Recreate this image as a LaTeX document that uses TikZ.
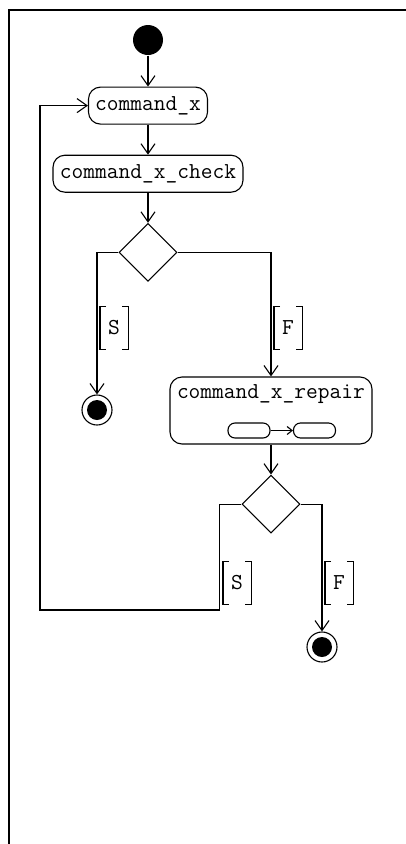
\documentclass[tikz,border=0pt]{standalone}
\usetikzlibrary{arrows.meta,positioning,shapes.geometric}

\begin{document}
\begin{tikzpicture}[x=1pt,y=1pt,
          line width=1.1pt,
          >={Straight Barb[length=10pt,width=14pt]},
          every node/.style={font=\fontsize{22.8}{26}\selectfont\ttfamily},
          act/.style={draw,rounded corners=12pt,minimum height=37pt,inner sep=0pt},
          mini/.style={draw,rounded corners=7pt,minimum width=42pt,minimum height=15pt,inner sep=0pt},
          decision/.style={diamond,draw,minimum width=58pt,minimum height=58pt,inner sep=0pt},
          startnode/.style={circle,fill,minimum size=30pt,inner sep=0pt},
          final/.style={circle,draw,minimum size=30pt,inner sep=0pt,
              path picture={\fill (path picture bounding box.center) circle (10pt);}},
          guard/.style={minimum width=27pt,minimum height=42pt,inner sep=0pt,anchor=west}]
        \useasboundingbox (0,0) rectangle (406,-844);
        \draw[line width=1.5pt] (406,-10) -| (9,-844);
        % main column
        \node[startnode] (start) at (148,-40) {};
        \node[act,minimum width=119pt,below=31pt of start] (cmdx) {command\_x};
        \node[act,minimum width=190pt,below=30pt of cmdx] (check) {command\_x\_check};
        \node[decision,below=30pt of check] (d1) {};
        \node[final] (end1) at (97,-410) {};
        % repair activity
        \node[act,minimum width=202pt,minimum height=67pt] (repair) at (271,-410.5) {};
        \node[anchor=west,inner sep=7pt] (repairname) at ([yshift=-18pt]repair.north west) {command\_x\_repair};
        \node[mini] (sub1) at (249,-430.5) {};
        \node[mini] (sub2) at (314.5,-430.5) {};
        \node[decision,below=30pt of repair] (d2) {};
        \node[final] (end2) at (322,-647) {};
        \coordinate (loop) at (40,-610);
        % guards
        \node[guard] (g1) at (100,-328) {S};
        \node[guard] (g2) at (274,-328) {F};
        \node[guard] (g3) at (223,-583) {S};
        \node[guard] (g4) at (325,-583) {F};
        \foreach \g in {g1,g2,g3,g4}
        \draw ([xshift=6pt]\g.north west) -- (\g.north west) -- (\g.south west) -- ([xshift=6pt]\g.south west)
              ([xshift=-6pt]\g.north east) -- (\g.north east) -- (\g.south east) -- ([xshift=-6pt]\g.south east);
        % flows
        \foreach \x/\y in {start/cmdx,cmdx/check,check/d1,repair/d2}
        \draw[->] (\x)--(\y);
        \draw[->] (d1.west) -| (end1);
        \draw[->] (d1.east) -| (repair);
        \draw[->] (d2.east) -| (end2);
        \draw[->] (d2.west) -- ++(-22,0) |- (loop) |- (cmdx.west);
        \draw[-{Straight Barb[length=5pt,width=8pt]}] (sub1) -- (sub2);
      \end{tikzpicture}
\end{document}
